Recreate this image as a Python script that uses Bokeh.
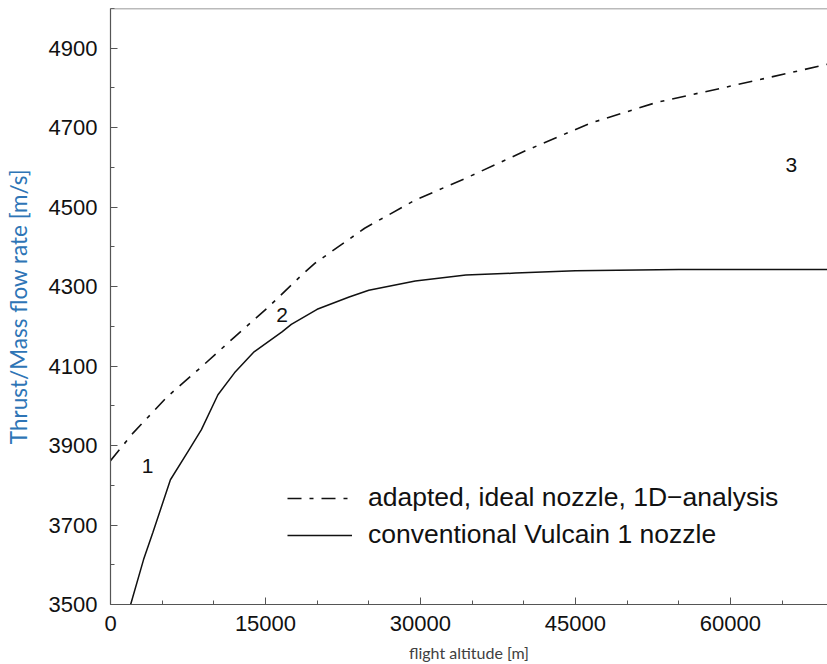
from bokeh.plotting import figure
from bokeh.models import (Range1d, FixedTicker, Legend, LegendItem, Span,
                          ColumnDataSource)
from bokeh.core.properties import value
from bokeh.embed import file_html
from bokeh.resources import INLINE

# --- data ---
alt_ideal = [0, 2200, 5500, 8800, 12000, 15300, 18500, 19800, 24600, 29500,
             34400, 40000, 46400, 52900, 59400, 65900, 69800]
isp_ideal = [3862, 3932, 4023, 4098, 4173, 4249, 4329, 4359, 4447, 4518,
             4573, 4640, 4711, 4764, 4801, 4839, 4862]

alt_conv = [1950, 3200, 4100, 5800, 7600, 8800, 10400, 12000, 13900, 16600,
            17500, 20000, 23100, 25000, 29500, 34400, 39200, 45000, 55000, 69800]
isp_conv = [3500, 3613, 3681, 3814, 3889, 3940, 4028, 4083, 4136, 4186,
            4205, 4243, 4274, 4291, 4314, 4329, 4334, 4340, 4343, 4343]

region_labels = ["1", "2", "3"]
region_alt = [3600, 16600, 65900]
region_isp = [3849, 4229, 4605]

x_major = [0, 15000, 30000, 45000, 60000]
x_minor = [5000, 10000, 20000, 25000, 35000, 40000, 50000, 55000, 65000]
y_major = [3500, 3700, 3900, 4100, 4300, 4500, 4700, 4900]
y_minor = [3600, 3800, 4000, 4200, 4400, 4600, 4800, 5000]

x_title = "flight altitude [m]"
y_title = "Thrust/Mass flow rate [m/s]"
legend_ideal = "adapted, ideal nozzle, 1D\u2212analysis"
legend_conv = "conventional Vulcain 1 nozzle"

TICK_FONT = "Liberation Sans"
LABEL_FONT = "Lato"

p = figure(width=827, height=664, output_backend="svg", toolbar_location=None,
           x_range=Range1d(0, 69400), y_range=Range1d(3500, 5000),
           min_border_left=110, min_border_right=0, min_border_top=8,
           min_border_bottom=59)
p.background_fill_color = "white"
p.border_fill_color = "white"
p.outline_line_color = None
p.xgrid.visible = False
p.ygrid.visible = False

r_ideal = p.line(alt_ideal, isp_ideal, line_color="#111111", line_width=1.6,
                 line_dash="14 8 4 8")
r_conv = p.line(alt_conv, isp_conv, line_color="#111111", line_width=1.5)

src = ColumnDataSource(dict(x=region_alt, y=region_isp, t=region_labels))
p.text(x="x", y="y", text="t", source=src, text_font=value(TICK_FONT),
       text_font_size="21px", text_color="#111111", text_align="center",
       text_baseline="middle")

# top border line
p.add_layout(Span(location=5000, dimension="width", line_color="#777777",
                  line_width=1.5))

p.xaxis.ticker = FixedTicker(ticks=x_major, minor_ticks=x_minor)
p.yaxis.ticker = FixedTicker(ticks=y_major, minor_ticks=y_minor)

for ax in (p.xaxis, p.yaxis):
    ax.axis_line_color = "#555555"
    ax.axis_line_width = 1.2
    ax.major_tick_line_color = "#555555"
    ax.minor_tick_line_color = "#555555"
    ax.major_tick_in = 7
    ax.major_tick_out = 0
    ax.minor_tick_in = 4
    ax.minor_tick_out = 0
    ax.major_label_text_font = TICK_FONT
    ax.major_label_text_font_size = "22px"
    ax.major_label_text_color = "#111111"
    ax.axis_label_text_font = LABEL_FONT
    ax.axis_label_text_font_style = "normal"

p.xaxis.major_label_standoff = 11
p.xaxis.axis_label = x_title
p.xaxis.axis_label_text_color = "#404040"
p.xaxis.axis_label_text_font_size = "16px"
p.xaxis.axis_label_standoff = 9

p.yaxis.major_label_standoff = 13
p.yaxis.axis_label = y_title
p.yaxis.axis_label_text_color = "#2E75B6"
p.yaxis.axis_label_text_font_size = "22.5px"
p.yaxis.axis_label_standoff = 14

legend = Legend(items=[LegendItem(label=legend_ideal, renderers=[r_ideal]),
                       LegendItem(label=legend_conv, renderers=[r_conv])],
                location=(177, 54), border_line_color=None,
                background_fill_alpha=0, padding=0, margin=0, spacing=6,
                glyph_width=65, glyph_height=30, label_height=30,
                label_standoff=16, label_text_font=TICK_FONT,
                label_text_font_size="26.5px", label_text_color="#111111")
p.add_layout(legend)

open("out.html", "w").write(file_html(p, INLINE))
